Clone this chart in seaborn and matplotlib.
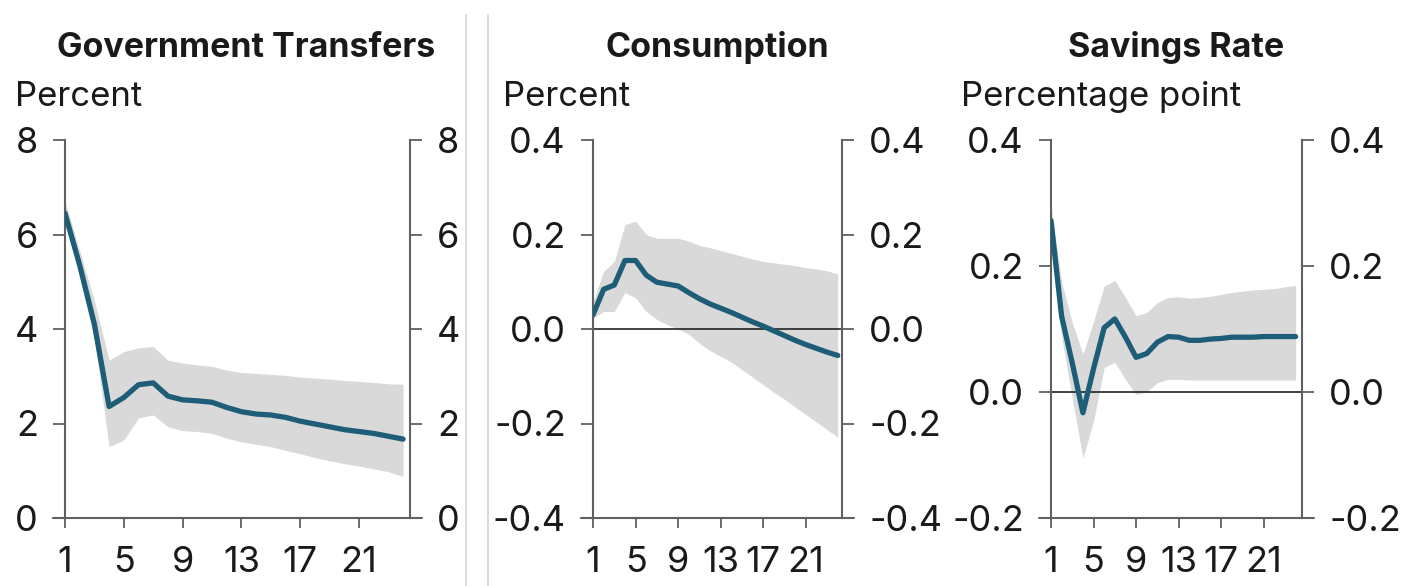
import numpy as np
import pandas as pd
import matplotlib
matplotlib.use("Agg")
import matplotlib.pyplot as plt
import seaborn as sns
from matplotlib.lines import Line2D

quarters = list(range(1, 25))

transfers_mid = [6.45, 5.35, 4.10, 2.36, 2.55, 2.82, 2.86, 2.58, 2.50, 2.48, 2.45, 2.34,
                 2.25, 2.20, 2.18, 2.13, 2.05, 1.99, 1.93, 1.87, 1.83, 1.79, 1.73, 1.67]
transfers_hi = [6.70, 5.65, 4.60, 3.34, 3.52, 3.60, 3.63, 3.34, 3.28, 3.24, 3.21, 3.13,
                3.08, 3.06, 3.04, 3.02, 2.98, 2.96, 2.94, 2.91, 2.89, 2.87, 2.84, 2.83]
transfers_lo = [6.30, 5.10, 3.80, 1.51, 1.65, 2.12, 2.18, 1.93, 1.85, 1.83, 1.79, 1.69,
                1.61, 1.56, 1.51, 1.43, 1.36, 1.28, 1.21, 1.15, 1.10, 1.04, 0.98, 0.88]

cons_mid = [0.030, 0.084, 0.093, 0.145, 0.145, 0.114, 0.099, 0.095, 0.091, 0.077, 0.064, 0.053,
            0.044, 0.035, 0.025, 0.015, 0.006, -0.004, -0.014, -0.024, -0.033, -0.041, -0.049, -0.056]
cons_hi = [0.058, 0.122, 0.143, 0.221, 0.228, 0.200, 0.192, 0.192, 0.192, 0.186, 0.177, 0.172,
           0.166, 0.160, 0.154, 0.148, 0.143, 0.140, 0.137, 0.134, 0.130, 0.127, 0.123, 0.117]
cons_lo = [0.023, 0.037, 0.037, 0.077, 0.066, 0.037, 0.020, 0.009, 0.000, -0.011, -0.030, -0.046,
           -0.058, -0.070, -0.086, -0.102, -0.118, -0.134, -0.149, -0.165, -0.181, -0.197, -0.213, -0.229]

sav_mid = [0.272, 0.120, 0.046, -0.033, 0.037, 0.102, 0.116, 0.087, 0.055, 0.061, 0.079, 0.088,
           0.087, 0.082, 0.082, 0.084, 0.085, 0.087, 0.087, 0.087, 0.088, 0.088, 0.088, 0.088]
sav_hi = [0.296, 0.175, 0.110, 0.060, 0.112, 0.168, 0.177, 0.150, 0.121, 0.126, 0.142, 0.150,
          0.151, 0.149, 0.150, 0.152, 0.155, 0.158, 0.160, 0.162, 0.163, 0.164, 0.167, 0.169]
sav_lo = [0.248, 0.087, -0.010, -0.105, -0.046, 0.039, 0.047, 0.020, -0.004, 0.000, 0.015, 0.020,
          0.020, 0.019, 0.019, 0.019, 0.019, 0.019, 0.019, 0.019, 0.019, 0.019, 0.019, 0.019]

titles = ["Government Transfers", "Consumption", "Savings Rate"]
units = ["Percent", "Percent", "Percentage point"]
yticks_list = [[0, 2, 4, 6, 8], [-0.4, -0.2, 0.0, 0.2, 0.4], [-0.2, 0.0, 0.2, 0.4]]
ytick_labels = [["0", "2", "4", "6", "8"], ["-0.4", "-0.2", "0.0", "0.2", "0.4"],
                ["-0.2", "0.0", "0.2", "0.4"]]
xticks = [1, 5, 9, 13, 17, 21]

sns.set_theme(style="white")
plt.rcParams["font.family"] = ["Inter", "DejaVu Sans"]
plt.rcParams["axes.unicode_minus"] = False

W, H = 1402, 586
fig = plt.figure(figsize=(W / 100, H / 100), dpi=100)

LINE = "#1d5d78"
BAND = "#d9d9d9"
SPINE = "#606060"
TXT = "#1a1a1a"
FS_TICK = 26
FS_UNIT = 25
FS_TITLE = 24.5

# axes boxes in pixels: left, right, top, bottom
boxes = [(65, 410, 140, 518), (593, 842, 140, 518), (1051, 1302, 140, 518)]
xmaxs = [24.47, 24.4, 24.6]
title_cx = [246, 717, 1176]
unit_x = [15, 503, 961]

panels = [(transfers_mid, transfers_lo, transfers_hi),
          (cons_mid, cons_lo, cons_hi),
          (sav_mid, sav_lo, sav_hi)]

for i, ((mid, lo, hi), (l, r, t, b)) in enumerate(zip(panels, boxes)):
    ax = fig.add_axes([l / W, 1 - b / H, (r - l) / W, (b - t) / H])
    df = pd.DataFrame({"q": quarters, "v": mid})
    ax.fill_between(quarters, lo, hi, color=BAND, linewidth=0, zorder=1)
    ylo, yhi = yticks_list[i][0], yticks_list[i][-1]
    if ylo < 0:
        ax.axhline(0, color="#222222", linewidth=1.2, zorder=2)
    sns.lineplot(data=df, x="q", y="v", ax=ax, color=LINE, linewidth=3.8, zorder=3)
    ax.set_xlim(1, xmaxs[i])
    ax.set_ylim(ylo, yhi)
    ax.set_xlabel("")
    ax.set_ylabel("")
    ax.set_xticks(xticks)
    ax.set_xticklabels([str(x) for x in xticks])
    ax.set_yticks(yticks_list[i])
    ax.set_yticklabels(ytick_labels[i])
    ax.tick_params(axis="y", which="both", left=True, right=True, labelleft=True,
                   labelright=True, direction="out", length=8.5, width=1.3, color=SPINE,
                   labelsize=FS_TICK, labelcolor=TXT, pad=11)
    ax.tick_params(axis="x", bottom=True, direction="out", length=7, width=1.3,
                   color=SPINE, labelsize=FS_TICK, labelcolor=TXT, pad=13)
    for s in ["left", "right"]:
        ax.spines[s].set_visible(True)
        ax.spines[s].set_color(SPINE)
        ax.spines[s].set_linewidth(1.5)
    ax.spines["top"].set_visible(False)
    ax.spines["bottom"].set_visible(False)
    ext = 12 / (r - l)
    ax.add_line(Line2D([-ext, 1 + ext], [0, 0], transform=ax.transAxes, color=SPINE,
                       linewidth=1.5, clip_on=False, zorder=4))
    ax.set_facecolor("white")
    fig.text(title_cx[i] / W, 1 - 48 / H, titles[i], ha="center", va="center",
             fontsize=FS_TITLE, fontweight="bold", color=TXT)
    fig.text(unit_x[i] / W, 1 - 97 / H, units[i], ha="left", va="center",
             fontsize=FS_UNIT, color=TXT)

for x in [466, 488]:
    fig.add_artist(Line2D([x / W, x / W], [0, 1 - 15 / H], transform=fig.transFigure,
                          color="#dcdcdc", linewidth=1.5))

fig.savefig("out.png", dpi=100, facecolor="white")
